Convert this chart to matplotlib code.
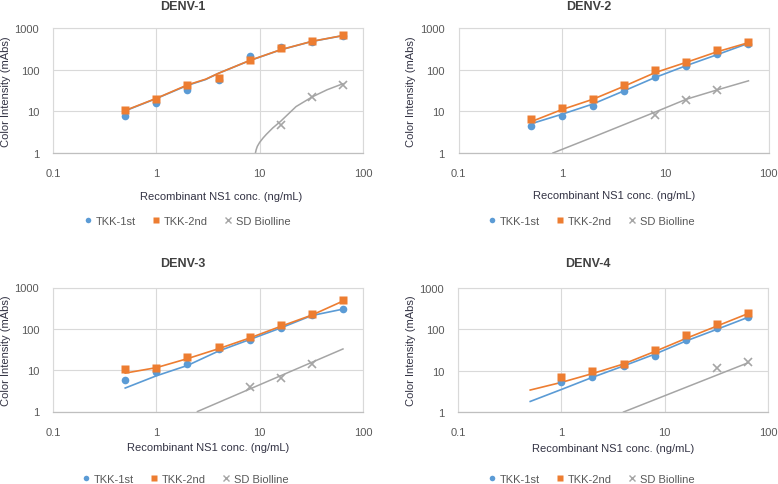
import matplotlib
matplotlib.use("Agg")
import matplotlib.pyplot as plt
from matplotlib.lines import Line2D

plt.rcParams['font.family'] = ['Liberation Sans', 'DejaVu Sans']

# ---------------- data ----------------
conc = [0.5, 1, 2, 4, 8, 16, 32, 64]
conc4 = [1, 2, 4, 8, 16, 32, 64]

# DENV-1
d1_tkk1 = [7.6, 15.6, 32, 56, 210, 353, 458, 650]
d1_tkk2 = [10.5, 19.5, 44, 64, 168, 328, 495, 665]
d1_sd_x = [16, 32, 64]
d1_sd = [4.6, 21.8, 44]
d1_fit1_x = [0.5, 1, 2, 3, 4, 8, 16, 32, 64]
d1_fit1_y = [10.3, 20.3, 42, 58, 82, 165, 300, 475, 655]
d1_fit2_x = [0.5, 1, 2, 3, 4, 8, 16, 32, 64]
d1_fit2_y = [10.5, 20.5, 43, 59, 82, 166, 302, 478, 660]
d1_fitsd_x = [9.1, 9.25, 9.5, 10, 10.8, 11.6, 13.4, 16, 22.5, 32, 45, 64]
d1_fitsd_y = [1.0, 1.2, 1.45, 1.8, 2.3, 2.8, 4.0, 5.8, 13, 22, 33, 46]

# DENV-2
d2_tkk1 = [4.4, 7.9, 13.5, 30.5, 68, 125, 235, 418]
d2_tkk2 = [6.4, 11.8, 19.5, 43, 96, 156, 299, 458]
d2_sd_x = [8, 16, 32]
d2_sd = [8.1, 18.5, 32]
d2_fit1_x = conc
d2_fit1_y = [5.0, 8.5, 15, 31, 65, 125, 230, 430]
d2_fit2_x = conc
d2_fit2_y = [5.6, 11, 19.5, 40, 85, 150, 270, 445]
d2_fitsd_x = [0.82, 2, 4, 8, 16, 32, 64]
d2_fitsd_y = [1.0, 2.4, 4.8, 9.6, 19.5, 32.8, 54]

# DENV-3
d3_tkk1 = [5.8, 9.2, 14.1, 33, 54, 105, 217, 298]
d3_tkk2 = [10.6, 11.5, 20.8, 35.7, 64, 124, 230, 493]
d3_sd_x = [8, 16, 32]
d3_sd = [4.0, 6.6, 14.4]
d3_fit1_x = conc
d3_fit1_y = [3.7, 7.3, 13, 29, 55, 105, 210, 300]
d3_fit2_x = conc
d3_fit2_y = [8.5, 11.5, 19, 33, 60, 115, 215, 470]
d3_fitsd_x = [2.5, 64]
d3_fitsd_y = [1.0, 32.6]

# DENV-4
d4_tkk1 = [5.2, 6.9, 12.8, 22.9, 54, 105, 198]
d4_tkk2 = [6.9, 9.7, 14.1, 31.4, 71, 136, 252]
d4_sd_x = [32, 64]
d4_sd = [11.9, 16.3]
d4_fit1_x = conc
d4_fit1_y = [1.8, 3.5, 6.9, 13, 25, 52, 100, 195]
d4_fit2_x = conc
d4_fit2_y = [3.4, 5.2, 8.5, 14.5, 29, 60, 120, 240]
d4_fitsd_x = [4.0, 64]
d4_fitsd_y = [1.0, 15.5]

titles = ["DENV-1", "DENV-2", "DENV-3", "DENV-4"]
series_names = ["TKK-1st", "TKK-2nd", "SD Biolline"]
x_ticks = [0.1, 1, 10, 100]
x_tick_labels = ["0.1", "1", "10", "100"]
y_ticks = [1, 10, 100, 1000]
y_tick_labels = ["1", "10", "100", "1000"]
x_label = "Recombinant NS1 conc. (ng/mL)"
y_label = "Color Intensity (mAbs)"

panels = [
    dict(x1=conc, y1=d1_tkk1, x2=conc, y2=d1_tkk2, xs=d1_sd_x, ys=d1_sd,
         f1=(d1_fit1_x, d1_fit1_y), f2=(d1_fit2_x, d1_fit2_y), fs=(d1_fitsd_x, d1_fitsd_y)),
    dict(x1=conc, y1=d2_tkk1, x2=conc, y2=d2_tkk2, xs=d2_sd_x, ys=d2_sd,
         f1=(d2_fit1_x, d2_fit1_y), f2=(d2_fit2_x, d2_fit2_y), fs=(d2_fitsd_x, d2_fitsd_y)),
    dict(x1=conc, y1=d3_tkk1, x2=conc, y2=d3_tkk2, xs=d3_sd_x, ys=d3_sd,
         f1=(d3_fit1_x, d3_fit1_y), f2=(d3_fit2_x, d3_fit2_y), fs=(d3_fitsd_x, d3_fitsd_y)),
    dict(x1=conc4, y1=d4_tkk1, x2=conc4, y2=d4_tkk2, xs=d4_sd_x, ys=d4_sd,
         f1=(d4_fit1_x, d4_fit1_y), f2=(d4_fit2_x, d4_fit2_y), fs=(d4_fitsd_x, d4_fitsd_y)),
]

# ---------------- style ----------------
BLUE = "#5B9BD5"
ORANGE = "#ED7D31"
GRAY = "#A5A5A5"
GRID = "#D9D9D9"
TICKC = "#595959"
LABELC = "#333344"

W, H = 778, 485
fig = plt.figure(figsize=(W / 100, H / 100), dpi=100)

# plot-area boxes in pixels: left, top, right, bottom
boxes = [(53, 29, 363, 154), (458.5, 29, 768.5, 154),
         (53, 288.5, 363, 412.5), (458, 289, 768, 413)]
title_pos = [(183, 7), (589, 7), (183, 264), (588, 264)]
xlabel_pos = [(221, 197), (614, 196), (208, 448), (613, 449)]
ylabel_x = [6, 411, 6, 411]
legend_pos = [(187, 222), (591, 222), (185, 480), (591, 480)]

for i, (p, box) in enumerate(zip(panels, boxes)):
    l, t, r, b = box
    ax = fig.add_axes([l / W, 1 - b / H, (r - l) / W, (b - t) / H])
    ax.set_xscale("log")
    ax.set_yscale("log")
    ax.set_xlim(0.1, 100)
    ax.set_ylim(1, 1000)
    ax.set_xticks(x_ticks)
    ax.set_xticklabels(x_tick_labels)
    ax.set_yticks(y_ticks)
    ax.set_yticklabels(y_tick_labels)
    ax.minorticks_off()
    ax.tick_params(axis="both", length=0, labelsize=8, colors=TICKC)
    ax.tick_params(axis="x", pad=11)
    ax.tick_params(axis="y", pad=10)
    ax.grid(True, color=GRID, lw=0.8)
    ax.set_axisbelow(True)
    for s in ["left", "top", "right"]:
        ax.spines[s].set_color(GRID)
        ax.spines[s].set_linewidth(0.8)
    ax.spines["bottom"].set_color("#BFBFBF")
    ax.spines["bottom"].set_linewidth(0.9)

    # fitted curves
    ax.plot(*p["fs"], color=GRAY, lw=1.1, zorder=2)
    ax.plot(*p["f1"], color=BLUE, lw=1.2, zorder=2)
    ax.plot(*p["f2"], color=ORANGE, lw=1.2, zorder=3)
    # points
    ax.plot(p["x1"], p["y1"], "o", color=BLUE, ms=5.5, zorder=4, mec="none")
    ax.plot(p["x2"], p["y2"], "s", color=ORANGE, ms=5.5, zorder=5, mec="none")
    ax.plot(p["xs"], p["ys"], "x", color=GRAY, ms=6, mew=1.2, zorder=5)

    tx, ty = title_pos[i]
    fig.text(tx / W, 1 - ty / H, titles[i], ha="center", va="center",
             fontsize=9, fontweight="bold", color="#404040")
    xx, xy = xlabel_pos[i]
    fig.text(xx / W, 1 - xy / H, x_label, ha="center", va="center",
             fontsize=8, color=LABELC)
    fig.text(ylabel_x[i] / W, 1 - ((t + b) / 2) / H, y_label, ha="center",
             va="center", rotation=90, fontsize=8, color=LABELC)

    handles = [
        Line2D([], [], ls="none", marker="o", color=BLUE, ms=4, mec="none"),
        Line2D([], [], ls="none", marker="s", color=ORANGE, ms=4, mec="none"),
        Line2D([], [], ls="none", marker="x", color=GRAY, ms=4.5, mew=1),
    ]
    lx, ly = legend_pos[i]
    fig.legend(handles, series_names, loc="center", bbox_to_anchor=(lx / W, 1 - ly / H),
               ncol=3, frameon=False, fontsize=8, handlelength=0.8,
               handletextpad=0.3, columnspacing=1.4, labelcolor=TICKC,
               borderpad=0, borderaxespad=0)

fig.savefig("out.png", dpi=100)
